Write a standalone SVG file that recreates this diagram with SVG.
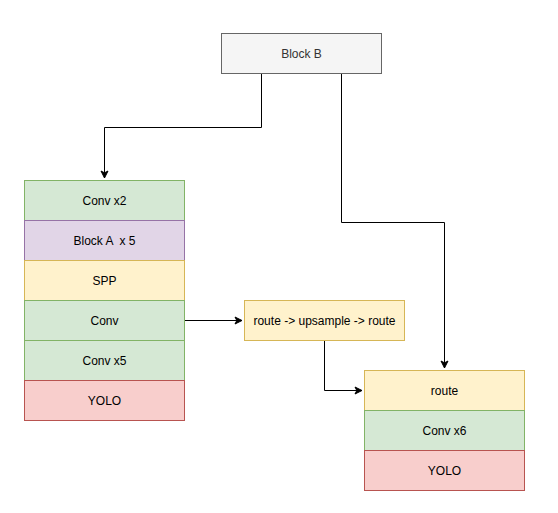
<svg xmlns="http://www.w3.org/2000/svg" width="558" height="513" viewBox="0 0 558 513">
<defs>
<marker id="arr" markerWidth="10" markerHeight="10" refX="8" refY="5" orient="auto" markerUnits="userSpaceOnUse">
<path d="M1,1.5 L8,5 L1,8.5 L2.8,5 Z" fill="#000" stroke="#000" stroke-width="1"/>
</marker>
<style>
rect{stroke-width:1}
.g{fill:#d5e8d4;stroke:#82b366}
.p{fill:#e1d5e7;stroke:#9673a6}
.y{fill:#fff2cc;stroke:#d6b656}
.r{fill:#f8cecc;stroke:#b85450}
.gr{fill:#f5f5f5;stroke:#666666}
text{font-family:"Liberation Sans",Arial,sans-serif;font-size:12px;text-anchor:middle;dominant-baseline:central;fill:#000}
.e{fill:none;stroke:#000;stroke-width:1}
</style>
</defs>
<g id="connectors">
<path class="e" d="M261.5,73 V127.5 H104.5 V178" marker-end="url(#arr)"/>
<path class="e" d="M341.5,73 V222.5 H444.5 V368" marker-end="url(#arr)"/>
<path class="e" d="M184.5,320.5 H242" marker-end="url(#arr)"/>
<path class="e" d="M324.5,340.5 V390.5 H362" marker-end="url(#arr)"/>
</g>
<g id="blockB"><rect class="gr" x="221.5" y="33.5" width="160" height="40"/><text x="301.5" y="53.5" style="fill:#333333">Block B</text></g>
<g id="conv2"><rect class="g" x="24.5" y="180.5" width="160" height="40"/><text x="104.5" y="200.5">Conv x2</text></g>
<g id="blockA"><rect class="p" x="24.5" y="220.5" width="160" height="40"/><text x="104.5" y="240.5" xml:space="preserve">Block A  x 5</text></g>
<g id="spp"><rect class="y" x="24.5" y="260.5" width="160" height="40"/><text x="104.5" y="280.5">SPP</text></g>
<g id="conv"><rect class="g" x="24.5" y="300.5" width="160" height="40"/><text x="104.5" y="320.5">Conv</text></g>
<g id="conv5"><rect class="g" x="24.5" y="340.5" width="160" height="40"/><text x="104.5" y="360.5">Conv x5</text></g>
<g id="yolo1"><rect class="r" x="24.5" y="380.5" width="160" height="40"/><text x="104.5" y="400.5">YOLO</text></g>
<g id="rus"><rect class="y" x="244.5" y="300.5" width="160" height="40"/><text x="324.5" y="320.5">route -&gt; upsample -&gt; route</text></g>
<g id="route"><rect class="y" x="364.5" y="370.5" width="160" height="40"/><text x="444.5" y="390.5">route</text></g>
<g id="conv6"><rect class="g" x="364.5" y="410.5" width="160" height="40"/><text x="444.5" y="430.5">Conv x6</text></g>
<g id="yolo2"><rect class="r" x="364.5" y="450.5" width="160" height="40"/><text x="444.5" y="470.5">YOLO</text></g>
</svg>
